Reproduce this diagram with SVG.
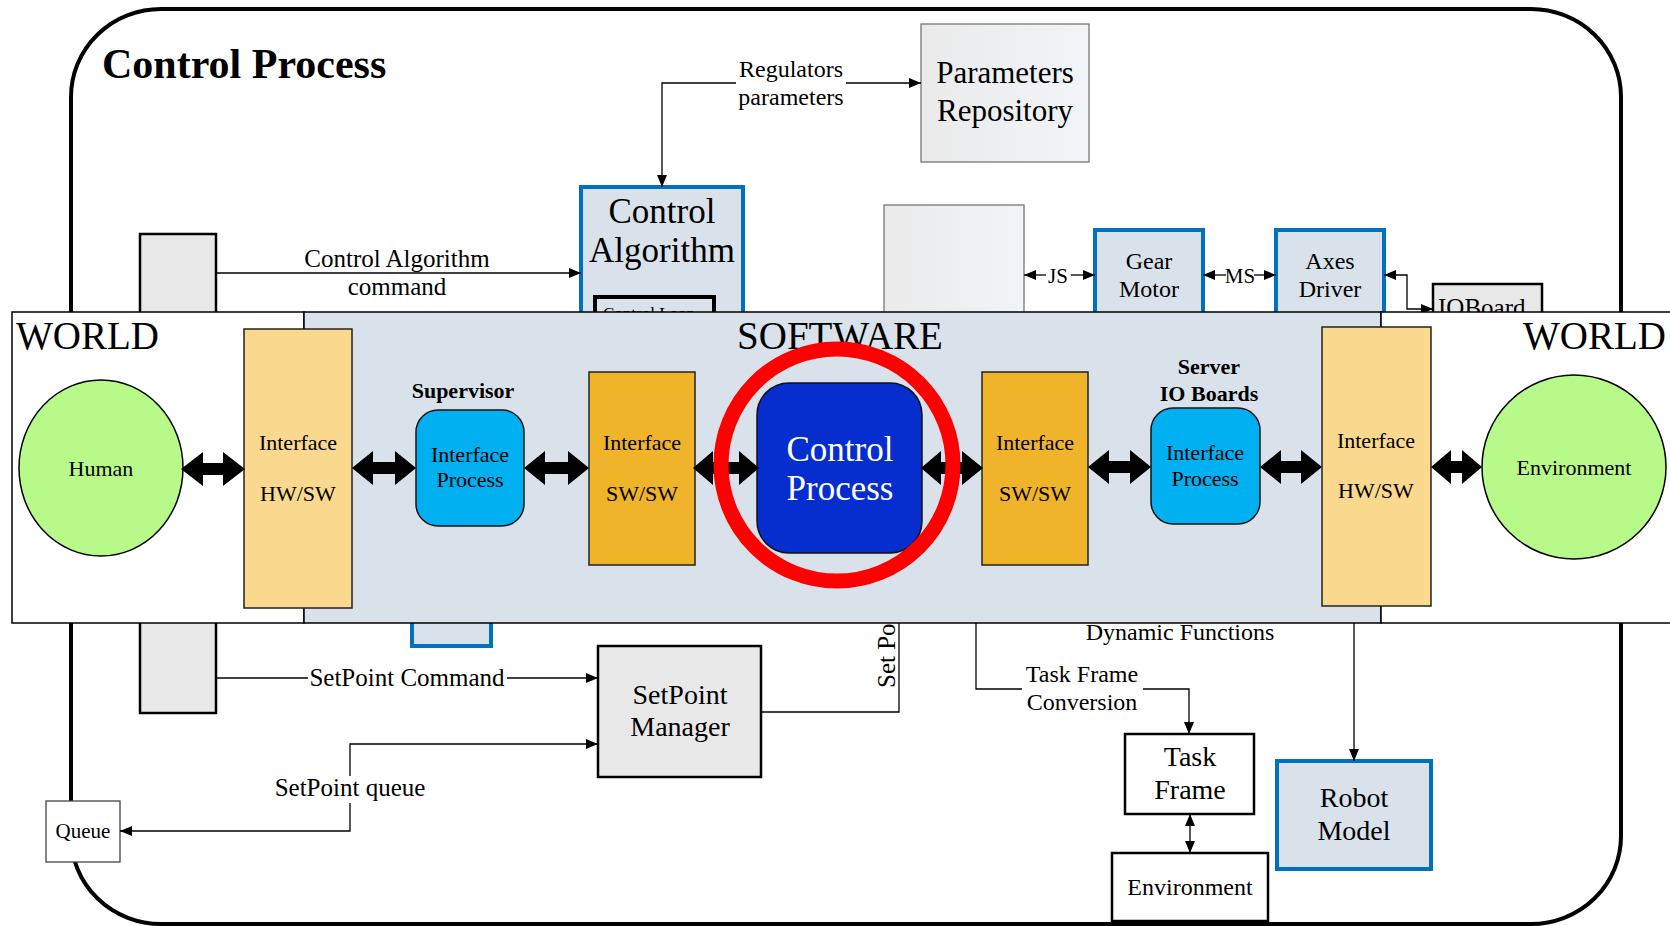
<svg xmlns="http://www.w3.org/2000/svg" width="1670" height="926" viewBox="0 0 1670 926">
<style>
text{font-family:"Liberation Serif","Times New Roman",serif;fill:#000}
.c{text-anchor:middle}
.b{font-weight:bold}
.conn{fill:none;stroke:#000;stroke-width:1.3}
.blue{fill:#D9E2EB;stroke:#0070C0;stroke-width:4}
.grey{fill:#E8E8E8;stroke:#000;stroke-width:2.5}
.wbox{fill:#fff;stroke:#000;stroke-width:2.5}
.ifl{fill:#FAD98E;stroke:#222;stroke-width:1.5}
.ifd{fill:#F0B42A;stroke:#222;stroke-width:1.5}
.proc{fill:#00B0F0;stroke:#111;stroke-width:1.5}
.dbl{fill:#000}
</style>
<defs>
<marker id="ah" viewBox="0 0 12 10" refX="12" refY="5" markerWidth="12" markerHeight="10" markerUnits="userSpaceOnUse" orient="auto-start-reverse"><path d="M0,0 L12,5 L0,10 Z" fill="#000"/></marker>
<linearGradient id="gg" x1="0" y1="0" x2="1" y2="0"><stop offset="0" stop-color="#EAEAEA"/><stop offset="1" stop-color="#F1F4F8"/></linearGradient>
</defs>
<rect width="1670" height="926" fill="#fff"/>
<g id="outer"><rect x="71" y="9" width="1550" height="915" rx="90" ry="88" fill="#fff" stroke="#000" stroke-width="4"/>
<text x="102" y="78" class="b" font-size="42">Control Process</text></g>

<g id="back-nodes">
<g id="cmdbox"><rect x="140" y="234" width="76" height="479" class="grey" stroke-width="2.5"/></g>
<g id="control-algorithm"><rect x="581" y="187" width="162" height="200" class="blue"/>
<text x="662" y="223" class="c" font-size="35">Control</text><text x="662" y="262" class="c" font-size="35">Algorithm</text>
<rect x="595" y="297" width="119" height="60" fill="#D9E2EB" stroke="#000" stroke-width="4"/>
<text x="603" y="319" font-size="17">Control Loop</text></g>
<g id="lowblue"><rect x="412" y="560" width="79" height="86" class="blue"/></g>
<g id="params"><rect x="921" y="24" width="168" height="138" fill="url(#gg)" stroke="#777" stroke-width="1.3"/>
<text x="1005" y="83" class="c" font-size="31">Parameters</text><text x="1005" y="121" class="c" font-size="31">Repository</text></g>
<g id="greybox2"><rect x="884" y="205" width="140" height="200" fill="url(#gg)" stroke="#777" stroke-width="1.3"/></g>
<g id="gear"><rect x="1095" y="230" width="108" height="130" class="blue"/>
<text x="1149" y="269" class="c" font-size="24">Gear</text><text x="1149" y="297" class="c" font-size="24">Motor</text></g>
<g id="axes"><rect x="1276" y="230" width="108" height="130" class="blue"/>
<text x="1330" y="269" class="c" font-size="24">Axes</text><text x="1330" y="297" class="c" font-size="24">Driver</text></g>
<g id="ioboard"><rect x="1433" y="284" width="109" height="60" class="grey" stroke-width="2"/>
<text x="1438" y="316" font-size="25">IOBoard</text></g>
<g id="setpoint-manager"><rect x="598" y="646" width="163" height="131" class="grey"/>
<text x="680" y="704" class="c" font-size="28">SetPoint</text><text x="680" y="736" class="c" font-size="28">Manager</text></g>
<g id="queue"><rect x="46" y="801" width="74" height="61" fill="#fff" stroke="#444" stroke-width="1.3"/>
<text x="83" y="838" class="c" font-size="21">Queue</text></g>
<g id="task-frame"><rect x="1125" y="734" width="129" height="80" class="wbox"/>
<text x="1190" y="766" class="c" font-size="28">Task</text><text x="1190" y="799" class="c" font-size="28">Frame</text></g>
<g id="environment-box"><rect x="1112" y="853" width="156" height="68" class="wbox"/>
<text x="1190" y="895" class="c" font-size="24">Environment</text></g>
<g id="robot-model"><rect x="1277" y="761" width="154" height="108" class="blue"/>
<text x="1354" y="807" class="c" font-size="28">Robot</text><text x="1354" y="840" class="c" font-size="28">Model</text></g>
</g>

<g id="back-connectors">
<path class="conn" d="M736,83 H662 V187" marker-end="url(#ah)"/>
<path class="conn" d="M846,83 H921" marker-end="url(#ah)"/>
<text x="791" y="77" class="c" font-size="24">Regulators</text><text x="791" y="105" class="c" font-size="24">parameters</text>
<path class="conn" d="M216,273 H581" marker-end="url(#ah)"/>
<text x="397" y="267" class="c" font-size="25">Control Algorithm</text><text x="397" y="295" class="c" font-size="25">command</text>
<path class="conn" d="M1046,275 H1024" marker-end="url(#ah)"/><path class="conn" d="M1071,275 H1095" marker-end="url(#ah)"/>
<text x="1058" y="283" class="c" font-size="21">JS</text>
<path class="conn" d="M1226,275 H1203" marker-end="url(#ah)"/><path class="conn" d="M1254,275 H1276" marker-end="url(#ah)"/>
<text x="1240" y="283" class="c" font-size="21">MS</text>
<path class="conn" d="M1433,309 H1407 V275 H1384" marker-start="url(#ah)" marker-end="url(#ah)"/>
<path class="conn" d="M216,678 H308"/><path class="conn" d="M507,678 H598" marker-end="url(#ah)"/>
<text x="407" y="686" class="c" font-size="25">SetPoint Command</text>
<path class="conn" d="M350,776 V744 H598" marker-end="url(#ah)"/>
<path class="conn" d="M350,803 V831 H120" marker-end="url(#ah)"/>
<text x="350" y="796" class="c" font-size="25">SetPoint queue</text>
<path class="conn" d="M761,712 H899 V600"/>
<text transform="translate(895,688) rotate(-90)" font-size="25">Set Point</text>
<path class="conn" d="M976,600 V689 H1022"/>
<path class="conn" d="M1143,689 H1189 V734" marker-end="url(#ah)"/>
<text x="1082" y="682" class="c" font-size="24">Task Frame</text><text x="1082" y="710" class="c" font-size="24">Conversion</text>
<text x="1180" y="640" class="c" font-size="24">Dynamic Functions</text>
<path class="conn" d="M1354,600 V761" marker-end="url(#ah)"/>
<path class="conn" d="M1190,814 V853" marker-start="url(#ah)" marker-end="url(#ah)"/>
</g>

<g id="band">
<rect x="12" y="312" width="292" height="311" fill="#fff" stroke="#000" stroke-width="1.5"/>
<rect x="304" y="312" width="1077" height="311" fill="#D9E2EB" stroke="#000" stroke-width="1.5"/>
<rect x="1381" y="312" width="300" height="311" fill="#fff" stroke="#000" stroke-width="1.5"/>
<text x="16" y="349" font-size="39">WORLD</text>
<text x="840" y="349" class="c" font-size="39">SOFTWARE</text>
<text x="1666" y="349" font-size="39" text-anchor="end">WORLD</text>
</g>

<g id="human"><ellipse cx="101" cy="468" rx="82" ry="88" fill="#B8FA8A" stroke="#000" stroke-width="1.5"/>
<text x="101" y="476" class="c" font-size="22">Human</text></g>
<g id="if-hwsw-left"><rect x="244" y="329" width="108" height="279" class="ifl"/>
<text x="298" y="450" class="c" font-size="22">Interface</text><text x="298" y="501" class="c" font-size="22">HW/SW</text></g>
<g id="supervisor"><text x="463" y="398" class="c b" font-size="22">Supervisor</text>
<rect x="416" y="410" width="108" height="116" rx="22" class="proc"/>
<text x="470" y="462" class="c" font-size="22">Interface</text><text x="470" y="487" class="c" font-size="22">Process</text></g>
<g id="if-swsw-left"><rect x="589" y="372" width="106" height="193" class="ifd"/>
<text x="642" y="450" class="c" font-size="22">Interface</text><text x="642" y="501" class="c" font-size="22">SW/SW</text></g>
<g id="control-process"><rect x="757" y="383" width="165" height="170" rx="32" fill="#062ECF" stroke="#111" stroke-width="1.5"/>
<text x="840" y="461" class="c" font-size="35" style="fill:#fff">Control</text><text x="840" y="500" class="c" font-size="35" style="fill:#fff">Process</text></g>
<g id="if-swsw-right"><rect x="982" y="372" width="106" height="193" class="ifd"/>
<text x="1035" y="450" class="c" font-size="22">Interface</text><text x="1035" y="501" class="c" font-size="22">SW/SW</text></g>
<g id="server"><text x="1209" y="374" class="c b" font-size="22">Server</text><text x="1209" y="401" class="c b" font-size="22">IO Boards</text>
<rect x="1151" y="408" width="109" height="116" rx="22" class="proc"/>
<text x="1205" y="460" class="c" font-size="22">Interface</text><text x="1205" y="486" class="c" font-size="22">Process</text></g>
<g id="if-hwsw-right"><rect x="1322" y="327" width="109" height="279" class="ifl"/>
<text x="1376" y="448" class="c" font-size="22">Interface</text><text x="1376" y="498" class="c" font-size="22">HW/SW</text></g>
<g id="environment"><ellipse cx="1574" cy="467" rx="92" ry="92" fill="#B8FA8A" stroke="#000" stroke-width="1.5"/>
<text x="1574" y="475" class="c" font-size="22">Environment</text></g>

<g id="band-connectors" class="dbl">
<path d="M181,469 L203,452 L203,463 L223,463 L223,452 L245,469 L223,486 L223,475 L203,475 L203,486 Z"/>
<path d="M352,468 L373,451 L373,462 L395,462 L395,451 L416,468 L395,485 L395,474 L373,474 L373,485 Z"/>
<path d="M524,468 L545,451 L545,462 L568,462 L568,451 L589,468 L568,485 L568,474 L545,474 L545,485 Z"/>
<path d="M693,468 L713,451 L713,462 L739,462 L739,451 L759,468 L739,485 L739,474 L713,474 L713,485 Z"/>
<path d="M921,468 L941,451 L941,462 L962,462 L962,451 L983,468 L962,485 L962,474 L941,474 L941,485 Z"/>
<path d="M1088,467 L1109,450 L1109,461 L1130,461 L1130,450 L1151,467 L1130,484 L1130,473 L1109,473 L1109,484 Z"/>
<path d="M1260,467 L1281,450 L1281,461 L1301,461 L1301,450 L1322,467 L1301,484 L1301,473 L1281,473 L1281,484 Z"/>
<path d="M1431,467 L1451,450 L1451,461 L1462,461 L1462,450 L1482,467 L1462,484 L1462,473 L1451,473 L1451,484 Z"/>
</g>
<g id="highlight"><circle cx="837" cy="465" r="116" fill="none" stroke="#FF0000" stroke-width="15"/></g>
</svg>
